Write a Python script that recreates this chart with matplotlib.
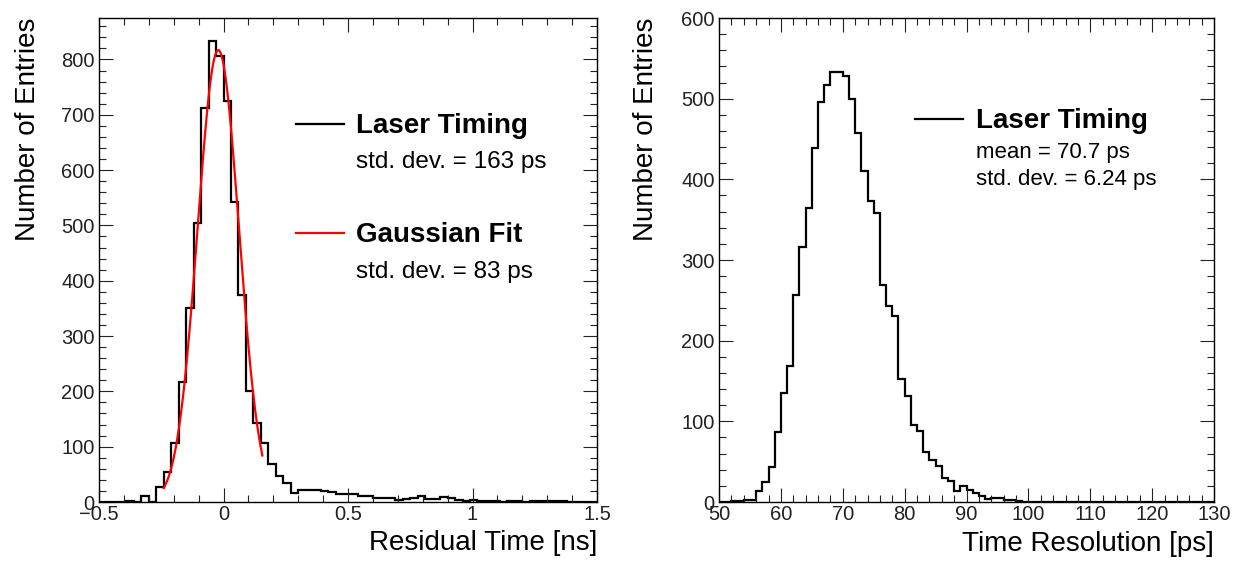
import numpy as np
import matplotlib
matplotlib.use("Agg")
import matplotlib.pyplot as plt
from matplotlib.ticker import MultipleLocator, FuncFormatter
from matplotlib.lines import Line2D

plt.rcParams["font.family"] = ["Liberation Sans", "DejaVu Sans"]

# left panel: residual time histogram, 0.03 ns bins
res_edges = np.arange(-17, 51) * 0.03
res_counts = [
    0, 0, 0, 0, 1, 0, 10, 0, 27, 54,
    107, 217, 351, 505, 713, 834, 807, 725, 542, 375,
    200, 142, 107, 69, 47, 35, 17, 21, 21, 22,
    19, 18, 14, 14, 14, 11, 10, 8, 8, 7,
    4, 6, 8, 10, 5, 5, 9, 7, 4, 2,
    4, 1, 1, 1, 0, 1, 1, 0, 1, 1,
    2, 1, 1, 0, 0, 0, 0,
]
# gaussian fit parameters (ns)
fit_amp = 817.0
fit_mean = -0.021
fit_sigma = 0.083
fit_lo, fit_hi = -0.24, 0.156

# right panel: time resolution histogram, 1 ps bins 50..130
tr_edges = np.arange(50, 131)
tr_counts = [
    0, 0, 1, 1, 3, 3, 14, 25, 44, 87,
    135, 169, 257, 316, 364, 439, 496, 517, 533, 533,
    528, 500, 458, 410, 373, 358, 269, 243, 230, 153,
    132, 95, 88, 62, 52, 45, 30, 26, 14, 20,
    15, 11, 8, 4, 5, 5, 2, 2, 1, 0,
] + [0] * 30

W, H = 1243, 562
fig = plt.figure(figsize=(W / 100, H / 100), dpi=100)
ax1 = fig.add_axes([99 / W, 1 - 502 / H, 498 / W, 484 / H])
ax2 = fig.add_axes([719 / W, 1 - 502 / H, 495 / W, 484 / H])


def style(ax):
    ax.tick_params(which="both", direction="in", top=True, right=True,
                   labelsize=14.5, width=0.8, colors="#222222")
    ax.tick_params(which="major", length=10)
    ax.tick_params(which="minor", length=5)
    ax.tick_params(axis="x", pad=2)
    ax.tick_params(axis="y", pad=3)
    for s in ax.spines.values():
        s.set_linewidth(1.0)


# left
ax1.stairs(res_counts, res_edges, color="black", lw=1.6, baseline=None)
xf = np.linspace(fit_lo, fit_hi, 200)
ax1.plot(xf, fit_amp * np.exp(-0.5 * ((xf - fit_mean) / fit_sigma) ** 2),
         color="red", lw=1.6)
ax1.set_xlim(-0.5, 1.5)
ax1.set_ylim(0, 875)
ax1.xaxis.set_major_locator(MultipleLocator(0.5))
ax1.xaxis.set_minor_locator(MultipleLocator(0.1))
ax1.yaxis.set_major_locator(MultipleLocator(100))
ax1.yaxis.set_minor_locator(MultipleLocator(20))
ax1.xaxis.set_major_formatter(FuncFormatter(lambda v, p: ("%g" % v).replace("-", "\u2212")))
style(ax1)
ax1.set_xlabel("Residual Time [ns]", fontsize=20, loc="right")
ax1.set_ylabel("Number of Entries", fontsize=20, loc="top")
ax1.xaxis.set_label_coords(1.0, -0.058)
ax1.yaxis.set_label_coords(-0.116, 1.0)

# right
ax2.stairs(tr_counts, tr_edges, color="black", lw=1.6, baseline=None)
ax2.set_xlim(50, 130)
ax2.set_ylim(0, 600)
ax2.xaxis.set_major_locator(MultipleLocator(10))
ax2.xaxis.set_minor_locator(MultipleLocator(2))
ax2.yaxis.set_major_locator(MultipleLocator(100))
ax2.yaxis.set_minor_locator(MultipleLocator(20))
style(ax2)
ax2.set_xlabel("Time Resolution [ps]", fontsize=20, loc="right")
ax2.set_ylabel("Number of Entries", fontsize=20, loc="top")
ax2.xaxis.set_label_coords(1.0, -0.06)
ax2.yaxis.set_label_coords(-0.121, 1.0)


def fx(px):
    return px / W


def fy(py):
    return 1 - py / H


# legend-like annotations
fig.add_artist(Line2D([fx(296), fx(344)], [fy(124), fy(124)], color="black", lw=1.6))
fig.text(fx(356), fy(133), "Laser Timing", fontsize=20, fontweight="bold", va="baseline")
fig.text(fx(356), fy(168), "std. dev. = 163 ps", fontsize=17.5, va="baseline")
fig.add_artist(Line2D([fx(296), fx(344)], [fy(233), fy(233)], color="red", lw=1.6))
fig.text(fx(356), fy(242), "Gaussian Fit", fontsize=20, fontweight="bold", va="baseline")
fig.text(fx(356), fy(278), "std. dev. = 83 ps", fontsize=17.5, va="baseline")

fig.add_artist(Line2D([fx(915), fx(963)], [fy(119), fy(119)], color="black", lw=1.6))
fig.text(fx(976), fy(128), "Laser Timing", fontsize=20, fontweight="bold", va="baseline")
fig.text(fx(976), fy(158), "mean = 70.7 ps", fontsize=16, va="baseline")
fig.text(fx(976), fy(185), "std. dev. = 6.24 ps", fontsize=16, va="baseline")

fig.savefig("out.png", dpi=100)
